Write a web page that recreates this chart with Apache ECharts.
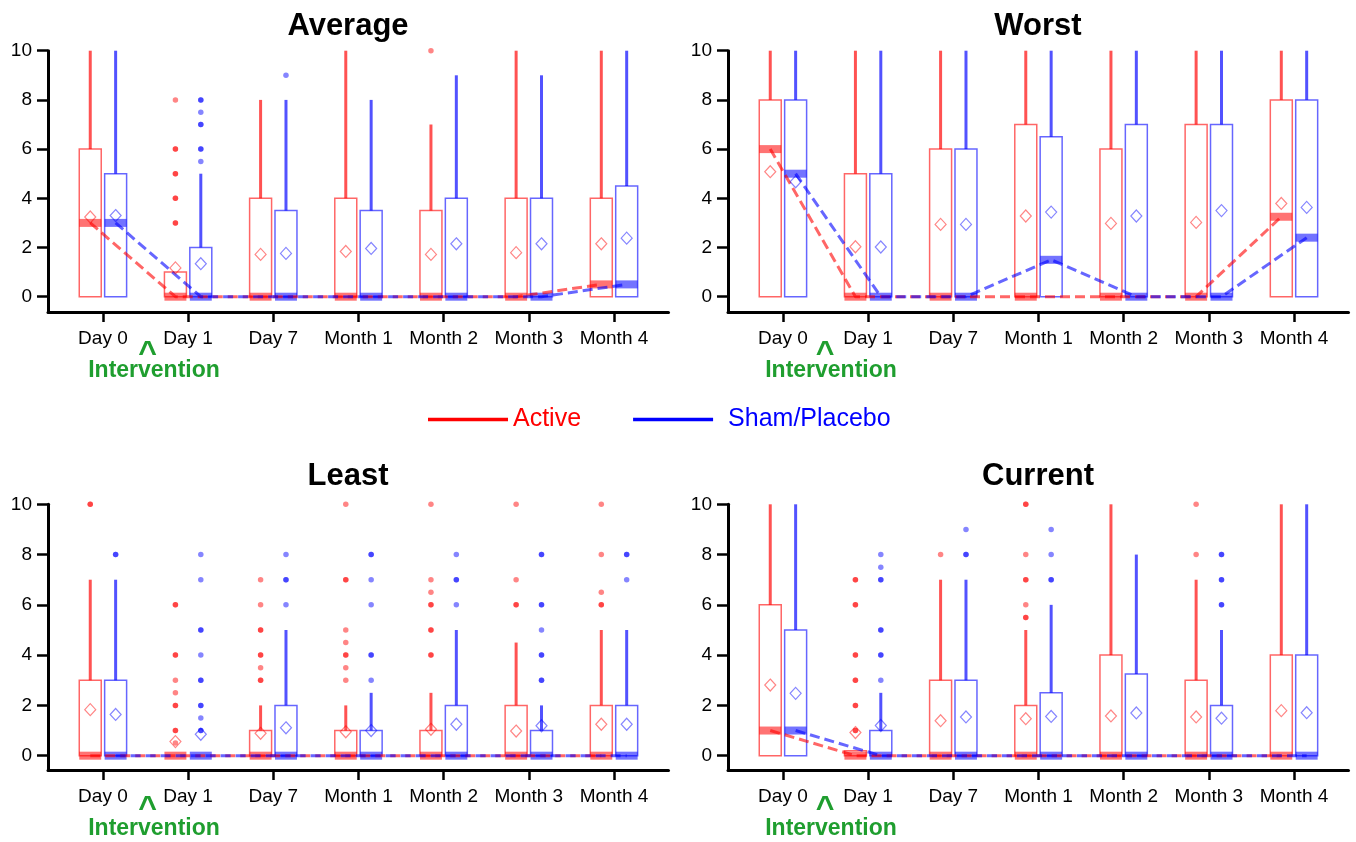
<!DOCTYPE html>
<html><head><meta charset="utf-8">
<script src="https://cdn.jsdelivr.net/npm/echarts@6/dist/echarts.min.js"></script>
<style>html,body{margin:0;padding:0;background:#fff}#c{width:1356px;height:842px}</style>
</head><body><div id="c"></div>
<script>
const categories = ['Day 0', 'Day 1', 'Day 7', 'Month 1', 'Month 2', 'Month 3', 'Month 4'];
const yTickValues = [0, 2, 4, 6, 8, 10];
const groupNames = ['Active', 'Sham/Placebo'];
const panelTitles = ['Average', 'Worst', 'Least', 'Current'];

// box stats per category: [q1, q3, median, upper whisker]
const averageActiveBox = [[0,6,3,10],[0,1,0,1],[0,4,0,8],[0,4,0,10],[0,3.5,0,7],[0,4,0,10],[0,4,0.5,10]];
const averageActiveMean = [3.24, 1.17, 1.72, 1.84, 1.72, 1.79, 2.15];
const averageActiveOutliers = [[], [8,6,6,5,5,4,4,3,3], [], [], [10], [], []];
const averageShamBox = [[0,5,3,10],[0,2,0,5],[0,3.5,0,8],[0,3.5,0,8],[0,4,0,9],[0,4,0,9],[0,4.5,0.5,10]];
const averageShamMean = [3.3, 1.34, 1.76, 1.96, 2.15, 2.15, 2.38];
const averageShamOutliers = [[], [8,8,7.5,7,7,6,6,5.5], [9], [], [], [], []];

const worstActiveBox = [[0,8,6,10],[0,5,0,10],[0,6,0,10],[0,7,0,10],[0,6,0,10],[0,7,0,10],[0,8,3.25,10]];
const worstActiveMean = [5.08, 2.03, 2.94, 3.28, 2.98, 3.02, 3.79];
const worstActiveOutliers = [[], [], [], [], [], [], []];
const worstShamBox = [[0,8,5,10],[0,5,0,10],[0,6,0,10],[0,6.5,1.5,10],[0,7,0,10],[0,7,0,10],[0,8,2.4,10]];
const worstShamMean = [4.67, 2.02, 2.94, 3.44, 3.28, 3.5, 3.63];
const worstShamOutliers = [[], [], [], [], [], [], []];

const leastActiveBox = [[0,3,0,7],[0,0,0,0],[0,1,0,2],[0,1,0,2],[0,1,0,2.5],[0,2,0,4.5],[0,2,0,5]];
const leastActiveMean = [1.83, 0.56, 0.89, 0.95, 1.05, 0.98, 1.25];
const leastActiveOutliers = [[10,10], [6,6,4,4,3,2.5,2,2,1,1,0.5], [7,6,5,5,4,4,3.5,3,3], [10,7,7,5,4.5,4,4,3.5,3], [10,7,6.5,6,6,5,5,4,4], [10,7,6,6], [10,8,6.5,6,6]];
const leastShamBox = [[0,3,0,7],[0,0,0,0],[0,2,0,5],[0,1,0,2.5],[0,2,0,5],[0,1,0,2],[0,2,0,5]];
const leastShamMean = [1.64, 0.85, 1.11, 1.0, 1.25, 1.19, 1.25];
const leastShamOutliers = [[8,8], [8,7,5,5,4,3,3,2,2,1.5,1,1], [8,7,7,6], [8,8,7,6,4,4,3], [8,7,7,6], [8,8,6,6,5,4,4,3,3], [8,8,7]];

const currentActiveBox = [[0,6,1,10],[0,0.2,0,0.2],[0,3,0,7],[0,2,0,5],[0,4,0,10],[0,3,0,7],[0,4,0,10]];
const currentActiveMean = [2.81, 0.92, 1.39, 1.47, 1.58, 1.54, 1.79];
const currentActiveOutliers = [[], [7,7,6,6,4,4,3,3,2,2,1,1], [8], [10,10,8,7,7,6,5.5,5.5], [], [10,8], []];
const currentShamBox = [[0,5,1,10],[0,1,0,2.5],[0,3,0,7],[0,2.5,0,6],[0,3.25,0,8],[0,2,0,5],[0,4,0,10]];
const currentShamMean = [2.48, 1.2, 1.54, 1.56, 1.7, 1.49, 1.71];
const currentShamOutliers = [[], [8,7.5,7,7,5,5,4,4,3], [9,8,8], [9,8,7,7], [], [8,8,7,7,6,6], []];

const FONT = '"Liberation Sans", Arial, Helvetica, sans-serif';
const GREEN = '#1f9e2f';
const RGB = ['255,0,0', '0,0,255'];
const OFFSETS = [-0.149, 0.149];
const BOX_W = 0.258;

const panels = [
  { box: [averageActiveBox, averageShamBox], mean: [averageActiveMean, averageShamMean], out: [averageActiveOutliers, averageShamOutliers] },
  { box: [worstActiveBox, worstShamBox], mean: [worstActiveMean, worstShamMean], out: [worstActiveOutliers, worstShamOutliers] },
  { box: [leastActiveBox, leastShamBox], mean: [leastActiveMean, leastShamMean], out: [leastActiveOutliers, leastShamOutliers] },
  { box: [currentActiveBox, currentShamBox], mean: [currentActiveMean, currentShamMean], out: [currentActiveOutliers, currentShamOutliers] }
];

const grids = [
  { left: 48, top: 50.7, width: 620.5, height: 261.3 },
  { left: 728, top: 50.7, width: 620.5, height: 261.3 },
  { left: 48, top: 504.3, width: 620.5, height: 265.7 },
  { left: 728, top: 504.3, width: 620.5, height: 265.7 }
];
const yMins = [-0.622, -0.622, -0.57, -0.57];
const titlePos = [[348, 26.5], [1038, 26.5], [348, 476.5], [1038, 476.5]];
const caretPos = [[147.5, 354], [825, 354], [147.5, 809.5], [825, 809.5]];
const interventionPos = [[154, 371], [831, 371], [154, 829], [831, 829]];

function makeRender(off, rgb) {
  return function (params, api) {
    const cx = api.value(0) + off;
    const q1 = api.value(1), q3 = api.value(2), med = api.value(3), wh = api.value(4);
    const pQ1 = api.coord([cx, q1]), pQ3 = api.coord([cx, q3]);
    const pMed = api.coord([cx, med]), pWh = api.coord([cx, wh]);
    const w = api.size([BOX_W, 0])[0];
    const children = [];
    if (wh > q3) {
      children.push({ type: 'line', shape: { x1: pQ3[0], y1: pQ3[1], x2: pWh[0], y2: pWh[1] },
        style: { stroke: 'rgba(' + rgb + ',0.68)', lineWidth: 3 } });
    }
    if (q3 > q1) {
      children.push({ type: 'rect', shape: { x: pQ1[0] - w / 2, y: pQ3[1], width: w, height: pQ1[1] - pQ3[1] },
        style: { fill: 'none', stroke: 'rgba(' + rgb + ',0.6)', lineWidth: 1.5 } });
    }
    children.push({ type: 'rect', shape: { x: pMed[0] - w / 2, y: pMed[1] - 4, width: w, height: 8 },
      style: { fill: 'rgba(' + rgb + ',0.55)' } });
    return { type: 'group', children };
  };
}

const series = [];
panels.forEach((p, pi) => {
  [0, 1].forEach(g => {
    const off = OFFSETS[g], rgb = RGB[g];
    series.push({
      type: 'custom', name: groupNames[g], xAxisIndex: pi, yAxisIndex: pi,
      renderItem: makeRender(off, rgb),
      encode: { x: 0, y: [1, 2, 3, 4] },
      data: p.box[g].map((b, i) => [i, b[0], b[1], b[2], b[3]]), z: 2
    });
  });
  [0, 1].forEach(g => {
    const off = OFFSETS[g], rgb = RGB[g];
    series.push({
      type: 'line', name: groupNames[g] + ' median', xAxisIndex: pi, yAxisIndex: pi,
      data: p.box[g].map((b, i) => [i + off, b[2]]), symbol: 'none',
      lineStyle: { type: [10, 5], width: 3, color: 'rgba(' + rgb + ',0.6)' }, z: 3
    });
  });
  [0, 1].forEach(g => {
    const off = OFFSETS[g], rgb = RGB[g];
    series.push({
      type: 'scatter', name: groupNames[g] + ' mean', xAxisIndex: pi, yAxisIndex: pi,
      data: p.mean[g].map((m, i) => [i + off, m]), symbol: 'diamond', symbolSize: [11, 12],
      itemStyle: { color: 'rgba(255,255,255,0)', borderColor: 'rgba(' + rgb + ',0.6)', borderWidth: 1.2 }, z: 4
    });
    const pts = [];
    p.out[g].forEach((arr, i) => arr.forEach(v => pts.push([i + off, v])));
    series.push({
      type: 'scatter', name: groupNames[g] + ' outliers', xAxisIndex: pi, yAxisIndex: pi,
      data: pts, symbol: 'circle', symbolSize: 5.5,
      itemStyle: { color: 'rgba(' + rgb + ',0.6)' }, z: 4
    });
  });
});

const graphic = [];
panelTitles.forEach((t, i) => {
  graphic.push({ type: 'text', x: titlePos[i][0], y: titlePos[i][1],
    style: { text: t, font: 'bold 31px ' + FONT, fill: '#000', align: 'center', verticalAlign: 'middle' } });
  graphic.push({ type: 'text', x: caretPos[i][0], y: caretPos[i][1],
    style: { text: '^', font: 'bold 32px ' + FONT, fill: GREEN, align: 'center', verticalAlign: 'middle' } });
  graphic.push({ type: 'text', x: interventionPos[i][0], y: interventionPos[i][1],
    style: { text: 'Intervention', font: 'bold 23px ' + FONT, fill: GREEN, align: 'center', verticalAlign: 'middle' } });
});

const option = {
  animation: false,
  backgroundColor: '#fff',
  textStyle: { fontFamily: FONT },
  grid: grids,
  xAxis: grids.map((g, i) => ({
    gridIndex: i, type: 'value', min: -0.645, max: 6.64,
    splitLine: { show: false },
    axisLine: { onZero: false, lineStyle: { color: '#000', width: 3 } },
    axisTick: { show: true, customValues: [0, 1, 2, 3, 4, 5, 6], length: 10, lineStyle: { color: '#000', width: 2.5 } },
    axisLabel: { customValues: [0, 1, 2, 3, 4, 5, 6], formatter: v => categories[Math.round(v)], color: '#000', fontSize: 19, fontFamily: FONT, margin: 17 }
  })),
  yAxis: grids.map((g, i) => ({
    gridIndex: i, type: 'value', min: yMins[i], max: 10,
    splitLine: { show: false },
    axisLine: { show: true, onZero: false, lineStyle: { color: '#000', width: 3 } },
    axisTick: { show: true, customValues: yTickValues, length: 11, lineStyle: { color: '#000', width: 2.5 } },
    axisLabel: { customValues: yTickValues, color: '#000', fontSize: 19, fontFamily: FONT, margin: 16 }
  })),
  legend: {
    left: 428, top: 407, padding: 0, itemGap: 52, itemWidth: 80, itemHeight: 3.5, icon: 'rect', selectedMode: false,
    data: [
      { name: 'Active', itemStyle: { color: '#ff0000' }, textStyle: { color: '#ff0000', fontSize: 25, fontFamily: FONT } },
      { name: 'Sham/Placebo', itemStyle: { color: '#0000ff' }, textStyle: { color: '#0000ff', fontSize: 25, fontFamily: FONT, padding: [0, 0, 0, 10] } }
    ]
  },
  graphic: graphic,
  series: series
};

const chart = echarts.init(document.getElementById('c'), null, { renderer: 'canvas' });
chart.setOption(option);
</script>
</body></html>
